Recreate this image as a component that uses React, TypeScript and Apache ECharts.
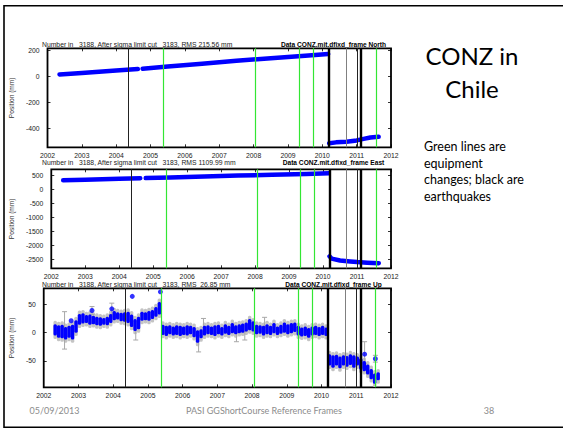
import React, { useEffect, useRef } from "react";
import * as echarts from "echarts";

// ---------- data ----------
const northYears = [2002.35, 2003.0, 2004.0, 2004.63, null, 2004.77, 2005.5, 2006.5, 2007.5, 2008.5, 2009.5, 2010.17, null, 2010.2, 2010.4, 2010.7, 2011.0, 2011.2, 2011.4, 2011.64];
const northValues = [17, 28, 48, 58, null, 61, 78, 100, 122, 142, 160, 174, null, -512, -505, -500, -490, -478, -468, -462];

const eastYears = [2002.35, 2003.0, 2004.0, 2004.62, null, 2004.78, 2005.5, 2006.5, 2007.5, 2008.5, 2009.5, 2010.17, null, 2010.19, 2010.25, 2010.5, 2010.8, 2011.0, 2011.3, 2011.64];
const eastValues = [336, 355, 390, 410, null, 415, 438, 470, 505, 535, 565, 588, null, -2380, -2460, -2530, -2565, -2585, -2605, -2625];

const upYears = [
  2002.33, 2002.43, 2002.53, 2002.63, 2002.73, 2002.83, 2002.93,
  2003.03, 2003.13, 2003.23, 2003.33, 2003.43, 2003.53, 2003.63, 2003.73, 2003.83, 2003.93,
  2004.03, 2004.13, 2004.23, 2004.33, 2004.43, 2004.53, 2004.63, 2004.73, 2004.83, 2004.93,
  2005.03, 2005.13, 2005.23, 2005.33, 2005.43, 2005.53, 2005.63, 2005.73, 2005.83, 2005.93,
  2006.03, 2006.13, 2006.23, 2006.33, 2006.43, 2006.53, 2006.63, 2006.73, 2006.83, 2006.93,
  2007.03, 2007.13, 2007.23, 2007.33, 2007.43, 2007.53, 2007.63, 2007.73, 2007.83, 2007.93,
  2008.03, 2008.13, 2008.23, 2008.33, 2008.43, 2008.53, 2008.63, 2008.73, 2008.83, 2008.93,
  2009.03, 2009.13, 2009.23, 2009.33, 2009.43, 2009.53, 2009.63, 2009.73, 2009.83, 2009.93,
  2010.03, 2010.13, 2010.23, 2010.33, 2010.43, 2010.53, 2010.63, 2010.73, 2010.83, 2010.93,
  2011.03, 2011.13, 2011.23, 2011.33, 2011.43, 2011.53, 2011.63,
];
const upLow = [
  -5, -9, -10, -12, -9, -12, 0,
  14, 16, 17, 14, 15, 13, 12, 14, 13, 17,
  22, 23, 20, 19, 17, 10, 3, 6, 21, 22,
  21, 24, 28, 32, -4, -6, -3, -5, -4, -6,
  -4, -5, -3, -8, -18, -10, -5, -3, -4, -6,
  -3, -5, -2, -4, -1, -3, -1, 0, 2, 4,
  2, -3, -2, -5, -3, -4, -1, -4, -2, 0,
  -3, -1, 1, -5, -7, -6, -9, -5, -4, -6,
  -4, -6, -58, -62, -58, -63, -58, -60, -57, -62,
  -58, -65, -68, -74, -82, -90, -84,
];
const upHigh = [
  15, 13, 14, 10, 12, 14, 22,
  33, 34, 31, 32, 30, 28, 27, 26, 28, 33,
  38, 36, 35, 36, 37, 32, 24, 28, 37, 36,
  38, 40, 45, 54, 14, 12, 13, 11, 13, 12,
  11, 13, 12, 10, 4, 6, 12, 13, 11, 13,
  14, 10, 15, 12, 17, 13, 15, 16, 18, 24,
  20, 14, 13, 12, 15, 12, 17, 11, 14, 18,
  15, 17, 18, 12, 9, 11, 8, 11, 12, 10,
  12, 9, -38, -40, -39, -42, -40, -41, -38, -40,
  -42, -45, -50, -56, -64, -72, -70,
];

const upOutYears = [2002.79, 2003.39, 2003.96, 2004.55, 2005.36, 2011.24, 2011.55];
const upOutValues = [21, 39, 42, 64, 72, -38, -46];

const whiskYears = [2002.6, 2003.39, 2003.96, 2004.65, 2006.46, 2006.6, 2007.55, 2007.79, 2008.36, 2011.24, 2011.55];
const whiskLow = [-29, 32, 32, -13, -34, 5, -16, -13, 10, -55, -52];
const whiskHigh = [37, 46, 52, 20, -5, 25, 0, 2, 27, -16, -40];

const greenLines = [2005.38, 2008.05, 2009.33, 2009.74, 2011.56];
const quakeThick = [2010.19, 2011.12];
const quakeThin = [2004.34, 2011.01];
const grayLines = [2010.69];

const northTicks = [-400, -200, 0, 200];
const eastTicks = [-2500, -2000, -1500, -1000, -500, 0, 500];
const upTicks = [-50, 0, 50];

const titlesLeft = [
  "Number in   3188, After sigma limit cut   3183, RMS 215.56 mm",
  "Number in   3188, After sigma limit cut   3183, RMS 1109.99 mm",
  "Number in   3188, After sigma limit cut   3183, RMS  26.85 mm",
];
const titlesRight = [
  "Data CONZ.mit.dfixd_frame North",
  "Data CONZ.mit.dfixd_frame East",
  "Data CONZ.mit.dfixd_frame Up",
];
const sideNote = ["Green lines are", "equipment", "changes; black are", "earthquakes"];

// ---------- layout ----------
const PLOT_LEFT = 41;
const PLOT_W = 350;
const PLOT_H = 99;
const tops = [48.3, 169.3, 288.3];
const ranges = [
  [-543, 218],
  [-2807, 729],
  [-96.4, 78.2],
];
const tickSets = [northTicks, eastTicks, upTicks];
const nameGaps = [23, 28, 19];
const FONT = "Liberation Sans, Arial, sans-serif";

function pairs(xs: (number | null)[], ys: (number | null)[]) {
  return xs.map((x, i) => (x === null || ys[i] === null ? ["-", "-"] : [x, ys[i]]));
}

function vlines() {
  const d: any[] = [];
  greenLines.forEach((v) => d.push({ xAxis: v, lineStyle: { color: "#33e633", width: 1.2, type: "solid" } }));
  quakeThin.forEach((v) => d.push({ xAxis: v, lineStyle: { color: "#222", width: 1, type: "solid" } }));
  grayLines.forEach((v) => d.push({ xAxis: v, lineStyle: { color: "#808080", width: 1, type: "solid" } }));
  quakeThick.forEach((v) => d.push({ xAxis: v, lineStyle: { color: "#000", width: 2.4, type: "solid" } }));
  return { silent: true, symbol: ["none", "none"], label: { show: false }, emphasis: { disabled: true }, data: d };
}

export default function App() {
  const ref = useRef<HTMLDivElement>(null);
  useEffect(() => {
    const chart = echarts.init(ref.current!, null, { renderer: "svg" });

    const grid = tops.map((t) => ({
      left: PLOT_LEFT,
      top: t,
      width: PLOT_W,
      height: PLOT_H,
      show: true,
      borderColor: "#000",
      borderWidth: 1.8,
      backgroundColor: "transparent",
    }));

    const tickStyle = { color: "#000", width: 0.8 };
    const xAxis: any[] = [];
    const yAxis: any[] = [];
    tops.forEach((_, i) => {
      xAxis.push({
        gridIndex: i,
        type: "value",
        min: 2002,
        max: 2012,
        interval: 1,
        position: "bottom",
        axisLine: { show: false, onZero: false },
        splitLine: { show: false },
        axisTick: { show: true, inside: true, length: 3, lineStyle: tickStyle },
        axisLabel: {
          show: true,
          fontSize: 6.8,
          fontFamily: FONT,
          color: "#1a1a1a",
          margin: 5,
          showMinLabel: true,
          showMaxLabel: true,
          formatter: (v: number) => String(v),
        },
      });
      xAxis.push({
        gridIndex: i,
        type: "value",
        min: 2002,
        max: 2012,
        interval: 1,
        position: "top",
        axisLine: { show: false, onZero: false },
        splitLine: { show: false },
        axisTick: { show: true, inside: true, length: 3, lineStyle: tickStyle },
        axisLabel: { show: false },
      });
      yAxis.push({
        gridIndex: i,
        type: "value",
        min: ranges[i][0],
        max: ranges[i][1],
        position: "left",
        axisLine: { show: false, onZero: false },
        splitLine: { show: false },
        axisTick: { show: true, inside: true, length: 3, customValues: tickSets[i], lineStyle: tickStyle },
        axisLabel: {
          show: true,
          customValues: tickSets[i],
          fontSize: 6.8,
          fontFamily: FONT,
          color: "#1a1a1a",
          margin: 8,
          formatter: (v: number) => String(v),
        },
        name: "Position (mm)",
        nameLocation: "middle",
        nameGap: nameGaps[i],
        nameTextStyle: { fontSize: 6.6, fontFamily: FONT, color: "#333" },
      });
      yAxis.push({
        gridIndex: i,
        type: "value",
        min: ranges[i][0],
        max: ranges[i][1],
        position: "right",
        axisLine: { show: false, onZero: false },
        splitLine: { show: false },
        axisTick: { show: true, inside: true, length: 3, customValues: tickSets[i], lineStyle: tickStyle },
        axisLabel: { show: false },
      });
    });

    const bandItem = (pad: number, color: string) => (params: any, api: any) => {
      const x = api.value(0);
      const lo = api.value(1) - pad;
      const hi = api.value(2) + pad;
      const p1 = api.coord([x - 0.05, hi]);
      const p2 = api.coord([x + 0.05, lo]);
      return {
        type: "rect",
        shape: { x: p1[0], y: p1[1], width: p2[0] - p1[0], height: p2[1] - p1[1], r: 1.5 },
        style: { fill: color },
      };
    };

    const upBand = upYears.map((y, i) => [y, upLow[i], upHigh[i]]);
    const whisk = whiskYears.map((y, i) => [y, whiskLow[i], whiskHigh[i]]);

    const series: any[] = [
      {
        type: "line",
        xAxisIndex: 0,
        yAxisIndex: 0,
        data: pairs(northYears, northValues),
        showSymbol: false,
        connectNulls: false,
        lineStyle: { color: "#0000ff", width: 4.5, cap: "round", join: "round" },
        emphasis: { disabled: true },
        markLine: vlines(),
      },
      {
        type: "line",
        xAxisIndex: 2,
        yAxisIndex: 2,
        data: pairs(eastYears, eastValues),
        showSymbol: false,
        connectNulls: false,
        lineStyle: { color: "#0000ff", width: 4.5, cap: "round", join: "round" },
        emphasis: { disabled: true },
        markLine: vlines(),
      },
      {
        type: "custom",
        xAxisIndex: 4,
        yAxisIndex: 4,
        data: upBand,
        renderItem: bandItem(6, "#c4c4c4"),
        silent: true,
      },
      {
        type: "custom",
        xAxisIndex: 4,
        yAxisIndex: 4,
        data: whisk,
        silent: true,
        renderItem: (params: any, api: any) => {
          const x = api.value(0);
          const a = api.coord([x, api.value(1)]);
          const b = api.coord([x, api.value(2)]);
          const st = { stroke: "#a8a8a8", lineWidth: 1 };
          return {
            type: "group",
            children: [
              { type: "line", shape: { x1: a[0], y1: a[1], x2: b[0], y2: b[1] }, style: st },
              { type: "line", shape: { x1: a[0] - 2.5, y1: a[1], x2: a[0] + 2.5, y2: a[1] }, style: st },
              { type: "line", shape: { x1: b[0] - 2.5, y1: b[1], x2: b[0] + 2.5, y2: b[1] }, style: st },
            ],
          };
        },
      },
      {
        type: "custom",
        xAxisIndex: 4,
        yAxisIndex: 4,
        data: upBand,
        renderItem: bandItem(0, "#0000ff"),
        silent: true,
      },
      {
        type: "scatter",
        xAxisIndex: 4,
        yAxisIndex: 4,
        data: upOutYears.map((y, i) => [y, upOutValues[i]]),
        symbolSize: 5,
        itemStyle: { color: "#0000ff" },
        silent: true,
        markLine: vlines(),
      },
    ];

    const graphic: any[] = [
      {
        type: "rect",
        shape: { x: 4, y: 5.7, width: 620, height: 421.5 },
        style: { fill: "none", stroke: "#000", lineWidth: 1.6 },
        silent: true,
      },
    ];
    const titleY = [44, 162.3, 284];
    titleY.forEach((ty, i) => {
      graphic.push({
        type: "text",
        x: 42,
        y: ty,
        style: { text: titlesLeft[i], fontSize: 6.8, fontFamily: FONT, fill: "#222", align: "left", verticalAlign: "middle" },
      });
      graphic.push({
        type: "text",
        x: 333.5,
        y: ty,
        style: { text: titlesRight[i], fontSize: 6.6, fontWeight: "bold", fontFamily: FONT, fill: "#000", align: "center", verticalAlign: "middle" },
      });
    });
    graphic.push({
      type: "text",
      x: 472,
      y: 55,
      style: { text: "CONZ in", fontSize: 24, fontFamily: "Lato, sans-serif", fill: "#000", align: "center", verticalAlign: "middle" },
    });
    graphic.push({
      type: "text",
      x: 472,
      y: 88.3,
      style: { text: "Chile", fontSize: 24, fontFamily: "Lato, sans-serif", fill: "#000", align: "center", verticalAlign: "middle" },
    });
    sideNote.forEach((t, i) => {
      graphic.push({
        type: "text",
        x: 424,
        y: 146.3 + i * 16.7,
        style: { text: t, fontSize: 12.5, fontFamily: "Lato, sans-serif", fill: "#000", align: "left", verticalAlign: "middle" },
      });
    });
    const footStyle = { fontSize: 9, fontFamily: "Lato, sans-serif", fill: "#8c8c8c", verticalAlign: "middle" };
    graphic.push({ type: "text", x: 54.5, y: 410, style: { ...footStyle, text: "05/09/2013", align: "center" } });
    graphic.push({ type: "text", x: 264, y: 410, style: { ...footStyle, text: "PASI GGShortCourse Reference Frames", align: "center" } });
    graphic.push({ type: "text", x: 489, y: 410, style: { ...footStyle, text: "38", align: "center" } });

    chart.setOption({
      animation: false,
      backgroundColor: "#fff",
      grid,
      xAxis,
      yAxis,
      series,
      graphic,
    });
    return () => chart.dispose();
  }, []);
  return <div ref={ref} style={{ position: "fixed", left: 0, top: 0, width: 563, height: 429, background: "#fff" }} />;
}
